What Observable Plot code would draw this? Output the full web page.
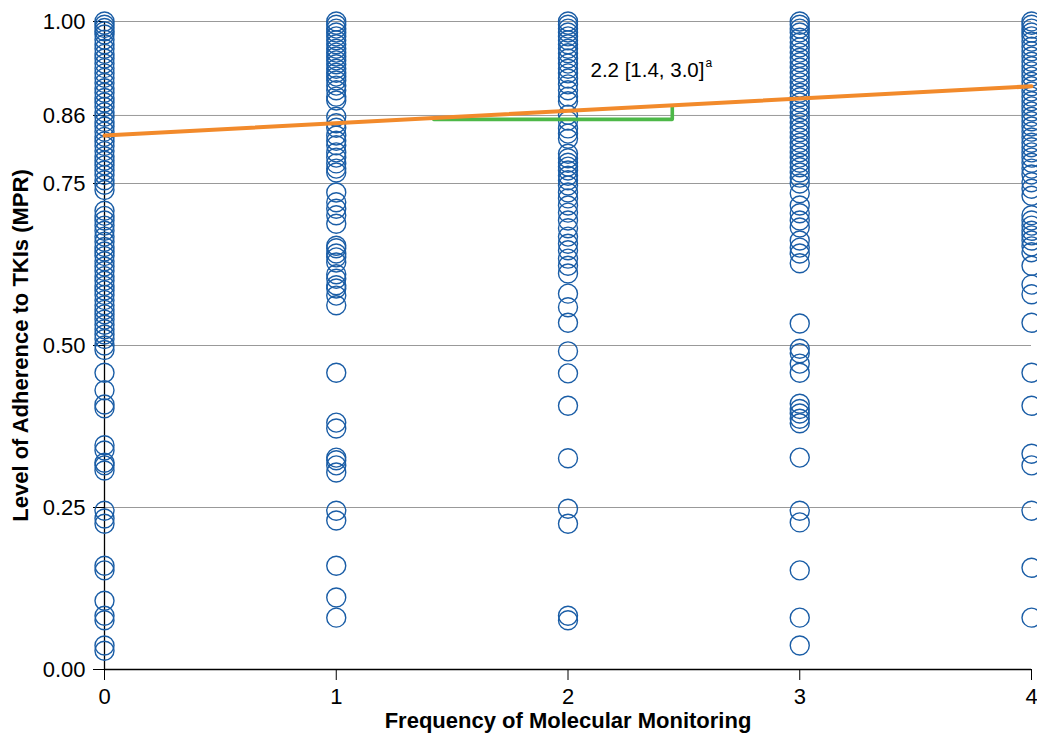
<!DOCTYPE html>
<html>
<head>
<meta charset="utf-8">
<script src="https://cdn.jsdelivr.net/npm/d3@7"></script>
<script src="https://cdn.jsdelivr.net/npm/@observablehq/plot@0.6"></script>
<style>
  html, body { margin: 0; padding: 0; background: #fff; }
  #chart { width: 1037px; height: 737px; overflow: hidden; }
  g[aria-label="x-axis label"] text, g[aria-label="y-axis label"] text { font-weight: bold; }
</style>
</head>
<body>
<div id="chart"></div>
<script>
// Frequency of molecular monitoring (x categories)
const monitoring = [0, 1, 2, 3, 4];

// Adherence (MPR) per patient, one array per monitoring frequency
const mpr0 = [1.00, 0.995, 0.99, 0.985, 0.98, 0.972, 0.965, 0.958, 0.95, 0.943, 0.935, 0.928, 0.92, 0.913, 0.905, 0.897, 0.89, 0.882, 0.875, 0.868, 0.86, 0.853, 0.845, 0.838, 0.83, 0.822, 0.815, 0.808, 0.80, 0.792, 0.785, 0.778, 0.77, 0.763, 0.755, 0.748, 0.74,
  0.708, 0.70, 0.693, 0.685, 0.677, 0.668, 0.66, 0.652, 0.645, 0.638, 0.63, 0.622, 0.615, 0.607, 0.60, 0.592, 0.585, 0.578, 0.57, 0.562, 0.555, 0.548, 0.54, 0.532, 0.525, 0.517, 0.51, 0.50, 0.493,
  0.458, 0.431, 0.409, 0.403, 0.346, 0.338, 0.319, 0.315, 0.307, 0.245, 0.233, 0.225, 0.160, 0.153, 0.106, 0.083, 0.076, 0.037, 0.029];
const mpr1 = [1.00, 0.995, 0.989, 0.983, 0.977, 0.971, 0.965, 0.958, 0.952, 0.946, 0.940, 0.934, 0.927, 0.921, 0.915, 0.909, 0.901, 0.894, 0.884, 0.878,
  0.853, 0.843, 0.836, 0.824, 0.816, 0.809, 0.798, 0.790, 0.781, 0.773, 0.767,
  0.736, 0.721, 0.711, 0.701, 0.688, 0.654, 0.650, 0.642, 0.636, 0.628, 0.610, 0.603, 0.593, 0.588, 0.577, 0.562,
  0.458, 0.381, 0.372, 0.327, 0.323, 0.315, 0.304, 0.245, 0.230, 0.160, 0.111, 0.080];
const mpr2 = [1.00, 0.995, 0.989, 0.983, 0.977, 0.971, 0.965, 0.958, 0.951, 0.943, 0.935, 0.927, 0.920, 0.912, 0.903, 0.894, 0.884, 0.877,
  0.856, 0.847, 0.835, 0.827, 0.819,
  0.796, 0.789, 0.782, 0.776, 0.770, 0.762, 0.755, 0.747,
  0.736, 0.727, 0.716, 0.705, 0.693, 0.681, 0.668, 0.657, 0.647, 0.634, 0.623,
  0.611, 0.580, 0.559, 0.535,
  0.491, 0.457, 0.407, 0.326, 0.248, 0.225, 0.083, 0.076];
const mpr3 = [1.00, 0.995, 0.989, 0.983, 0.975, 0.968, 0.960, 0.952, 0.944, 0.937, 0.929, 0.921, 0.914, 0.906, 0.898, 0.890, 0.883, 0.875, 0.867, 0.860, 0.852, 0.844, 0.836, 0.829, 0.821, 0.813, 0.806, 0.798, 0.790, 0.782, 0.775, 0.767, 0.759, 0.750,
  0.735, 0.716, 0.704, 0.693, 0.682, 0.662, 0.651, 0.642, 0.627,
  0.534, 0.495, 0.488, 0.472, 0.458, 0.410, 0.402, 0.395, 0.387, 0.380, 0.327, 0.245, 0.227, 0.153, 0.080, 0.037];
const mpr4 = [1.00, 0.995, 0.989, 0.983, 0.977, 0.969, 0.961, 0.954, 0.946, 0.938, 0.931, 0.923, 0.915, 0.907, 0.900, 0.892, 0.884, 0.877, 0.869, 0.861, 0.853, 0.846, 0.838, 0.830,
  0.821, 0.813, 0.806, 0.798, 0.790, 0.782, 0.773, 0.764, 0.752, 0.742, 0.731,
  0.701, 0.693, 0.685, 0.677, 0.670, 0.662, 0.653, 0.644,
  0.623, 0.594, 0.579, 0.535,
  0.458, 0.407, 0.333, 0.315, 0.245, 0.157, 0.080];

// Fitted regression line (end points) and slope bracket
const fitX = [0, 4];
const fitY = [0.824, 0.900];
const bracketX = [1.42, 2.45, 2.45];
const bracketY = [0.849, 0.849, 0.870];

// Annotation
const annotText = "2.2 [1.4, 3.0]";
const annotSup = "a";
const annotX = 2.097;
const annotY = 0.924;

// Axis ticks
const xTicks = [0, 1, 2, 3, 4];
const xTickLabels = ["0", "1", "2", "3", "4"];
const yTicks = [0, 0.25, 0.5, 0.75, 0.855, 1];
const yTickLabels = ["0.00", "0.25", "0.50", "0.75", "0.86", "1.00"];

const xTitle = "Frequency of Molecular Monitoring";
const yTitle = "Level of Adherence to TKIs (MPR)";

const series = [mpr0, mpr1, mpr2, mpr3, mpr4];
const points = series.flatMap((arr, i) => arr.map(v => ({x: monitoring[i], y: v})));
const fit = fitX.map((x, i) => ({x, y: fitY[i]}));
const bracket = bracketX.map((x, i) => ({x, y: bracketY[i]}));

const chart = Plot.plot({
  width: 1037,
  height: 737,
  marginLeft: 104,
  marginRight: 6,
  marginTop: 21,
  marginBottom: 68,
  style: {fontFamily: "'Liberation Sans', Arial, Helvetica, sans-serif", fontSize: "22px", color: "#000", background: "#fff", overflow: "hidden"},
  x: {domain: [0, 4]},
  y: {domain: [0, 1]},
  marks: [
    Plot.gridY(yTicks, {stroke: "#999", strokeOpacity: 1, strokeWidth: 1}),
    Plot.axisY(yTicks, {
      tickSize: 11, tickPadding: 8, stroke: "#000",
      tickFormat: d => yTickLabels[yTicks.indexOf(d)],
      label: yTitle, labelAnchor: "center", labelArrow: "none", labelOffset: 92, fontSize: 22
    }),
    Plot.axisX(xTicks, {
      tickSize: 11, tickPadding: 8, stroke: "#000",
      tickFormat: d => xTickLabels[xTicks.indexOf(d)],
      label: xTitle, labelAnchor: "center", labelArrow: "none", labelOffset: 58, fontSize: 22
    }),
    Plot.ruleX([0], {stroke: "#000", strokeWidth: 1.3}),
    Plot.ruleY([0], {stroke: "#000", strokeWidth: 1.3}),
    Plot.dot(points, {x: "x", y: "y", r: 9.5, stroke: "#1a5da6", strokeWidth: 1.4, fill: "none"}),
    Plot.line(bracket, {x: "x", y: "y", stroke: "#4db848", strokeWidth: 3.6}),
    Plot.line(fit, {x: "x", y: "y", stroke: "#f28a2b", strokeWidth: 4}),
    Plot.text([annotText], {x: annotX, y: annotY, text: d => d, textAnchor: "start", fontSize: 20.5, fill: "#000"}),
    Plot.text([annotSup], {x: annotX, y: annotY, text: d => d, textAnchor: "start", dx: 115, dy: -8, fontSize: 12, fill: "#000"})
  ]
});
document.getElementById("chart").appendChild(chart);
</script>
</body>
</html>
